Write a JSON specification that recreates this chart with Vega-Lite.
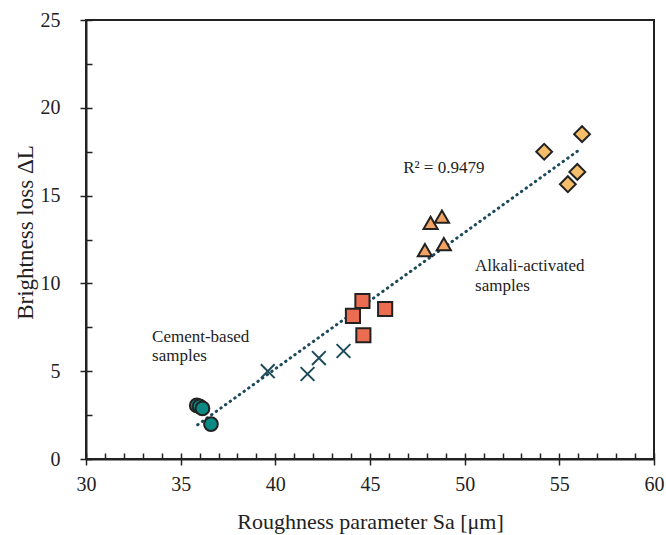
{
  "$schema": "https://vega.github.io/schema/vega-lite/v6.json",
  "width": 568,
  "height": 439,
  "autosize": "none",
  "padding": {"left": 86, "top": 20, "right": 12, "bottom": 76},
  "background": "white",
  "config": {
    "view": {"stroke": "#222222", "strokeWidth": 2},
    "font": "Liberation Serif",
    "axis": {"grid": false, "labelFlush": false}
  },
  "datasets": {
    "points": [
      {"group": "Cement", "sa": 35.85, "dl": 3.05},
      {"group": "Cement", "sa": 36.0, "dl": 3.0},
      {"group": "Cement", "sa": 36.15, "dl": 2.88},
      {"group": "Cement", "sa": 36.6, "dl": 1.99},
      {"group": "Cross", "sa": 39.6, "dl": 5.0},
      {"group": "Cross", "sa": 41.7, "dl": 4.84},
      {"group": "Cross", "sa": 42.3, "dl": 5.75},
      {"group": "Cross", "sa": 43.6, "dl": 6.15},
      {"group": "Square", "sa": 44.6, "dl": 9.0},
      {"group": "Square", "sa": 44.1, "dl": 8.15},
      {"group": "Square", "sa": 45.8, "dl": 8.54},
      {"group": "Square", "sa": 44.65, "dl": 7.05},
      {"group": "Triangle", "sa": 48.2, "dl": 13.45},
      {"group": "Triangle", "sa": 48.8, "dl": 13.8},
      {"group": "Triangle", "sa": 47.9, "dl": 11.9},
      {"group": "Triangle", "sa": 48.9, "dl": 12.24},
      {"group": "Diamond", "sa": 56.2, "dl": 18.5},
      {"group": "Diamond", "sa": 54.2, "dl": 17.5},
      {"group": "Diamond", "sa": 55.95, "dl": 16.35},
      {"group": "Diamond", "sa": 55.45, "dl": 15.65}
    ],
    "trend": [
      {"sa": 35.9, "dl": 1.95},
      {"sa": 56.05, "dl": 17.6}
    ],
    "labels": [
      {"sa": 46.75, "dl": 16.57, "label": "R² = 0.9479"},
      {"sa": 50.55, "dl": 11.0, "label": "Alkali-activated"},
      {"sa": 50.55, "dl": 9.85, "label": "samples"},
      {"sa": 33.49, "dl": 6.95, "label": "Cement-based"},
      {"sa": 33.49, "dl": 5.85, "label": "samples"}
    ]
  },
  "resolve": {"axis": {"x": "independent", "y": "independent"}},
  "layer": [
    {
      "data": {"name": "trend"},
      "mark": {"type": "line", "color": "#1c4a5b", "strokeWidth": 3, "strokeCap": "round", "strokeDash": [0.5, 5.2]},
      "encoding": {
        "x": {
          "field": "sa", "type": "quantitative",
          "scale": {"domain": [30, 60], "nice": false, "zero": false},
          "axis": {
            "orient": "bottom", "values": [30,31,32,33,34,35,36,37,38,39,40,41,42,43,44,45,46,47,48,49,50,51,52,53,54,55,56,57,58,59,60],
            "tickSize": -6, "tickWidth": 1.5, "tickColor": "#222222", "labels": false, "domain": false, "title": null
          }
        },
        "y": {
          "field": "dl", "type": "quantitative",
          "scale": {"domain": [0, 25], "nice": false},
          "axis": {
            "orient": "left", "values": [0,2.5,5,7.5,10,12.5,15,17.5,20,22.5,25],
            "tickSize": -6, "tickWidth": 1.5, "tickColor": "#222222", "labels": false, "domain": false, "title": null
          }
        }
      }
    },
    {
      "data": {"name": "points"},
      "mark": {"type": "point", "filled": true, "opacity": 1, "strokeWidth": 2},
      "encoding": {
        "x": {
          "field": "sa", "type": "quantitative",
          "scale": {"domain": [30, 60], "nice": false, "zero": false},
          "axis": {
            "orient": "bottom", "values": [30,35,40,45,50,55,60],
            "tickSize": 6, "tickWidth": 1.5, "tickColor": "#222222",
            "domainColor": "#222222", "domainWidth": 2,
            "labelFont": "Liberation Serif", "labelFontSize": 20, "labelColor": "#222222", "labelPadding": 9,
            "title": "Roughness parameter Sa [μm]", "titleFont": "Liberation Serif", "titleFontSize": 22,
            "titleFontWeight": "normal", "titleColor": "#222222", "titleY": 62, "titleBaseline": "middle"
          }
        },
        "y": {
          "field": "dl", "type": "quantitative",
          "scale": {"domain": [0, 25], "nice": false},
          "axis": {
            "orient": "left", "values": [0,5,10,15,20,25],
            "tickSize": 6, "tickWidth": 1.5, "tickColor": "#222222",
            "domainColor": "#222222", "domainWidth": 2,
            "labelFont": "Liberation Serif", "labelFontSize": 20, "labelColor": "#222222", "labelPadding": 20,
            "title": "Brightness loss ΔL", "titleFont": "Liberation Serif", "titleFontSize": 23,
            "titleFontWeight": "normal", "titleColor": "#222222", "titleX": -61, "titleY": 212, "titleBaseline": "middle"
          }
        },
        "shape": {
          "field": "group", "type": "nominal", "legend": null,
          "scale": {"domain": ["Cement","Cross","Square","Triangle","Diamond"],
                    "range": ["circle", "M-1,-1L1,1M-1,1L1,-1", "square", "triangle-up", "diamond"]}
        },
        "fill": {
          "field": "group", "type": "nominal", "legend": null,
          "scale": {"domain": ["Cement","Cross","Square","Triangle","Diamond"],
                    "range": ["#0b8a85", "transparent", "#ec6c51", "#f2a262", "#f6be6b"]}
        },
        "stroke": {
          "field": "group", "type": "nominal", "legend": null,
          "scale": {"domain": ["Cement","Cross","Square","Triangle","Diamond"],
                    "range": ["#222222", "#1c4a5b", "#222222", "#222222", "#222222"]}
        },
        "size": {
          "field": "group", "type": "nominal", "legend": null,
          "scale": {"type": "ordinal", "domain": ["Cement","Cross","Square","Triangle","Diamond"],
                    "range": [190, 190, 200, 200, 250]}
        }
      }
    },
    {
      "data": {"name": "labels"},
      "mark": {"type": "text", "align": "left", "baseline": "middle", "font": "Liberation Serif", "fontSize": 17, "color": "#222222"},
      "encoding": {
        "x": {"field": "sa", "type": "quantitative", "scale": {"domain": [30, 60], "nice": false, "zero": false}, "axis": null},
        "y": {"field": "dl", "type": "quantitative", "scale": {"domain": [0, 25], "nice": false}, "axis": null},
        "text": {"field": "label", "type": "nominal"}
      }
    }
  ]
}
